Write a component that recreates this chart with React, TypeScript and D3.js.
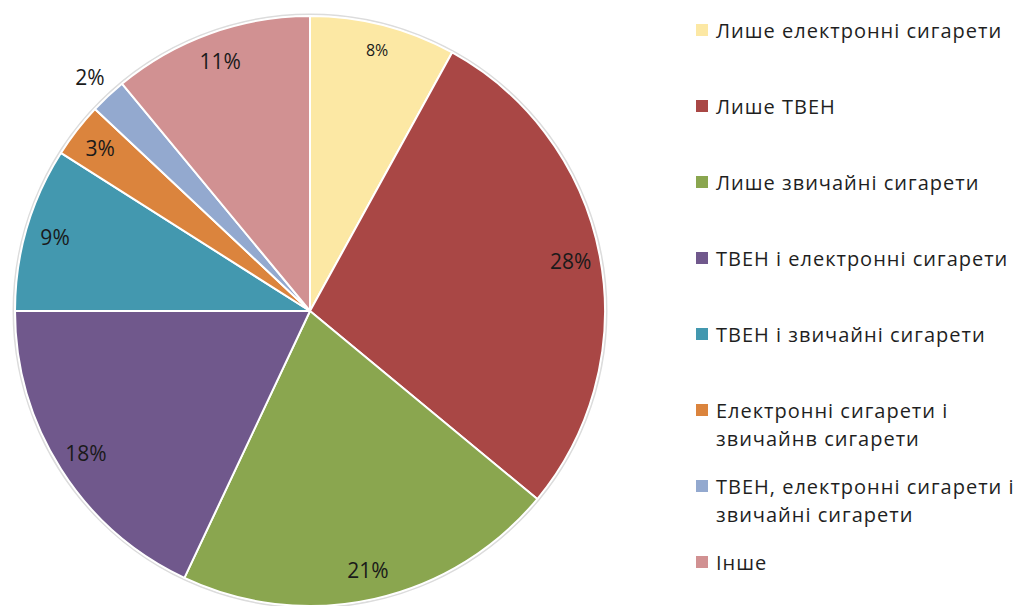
import React from "react";
import * as d3 from "d3";

const categories = [
  "Лише електронні сигарети",
  "Лише ТВЕН",
  "Лише звичайні сигарети",
  "ТВЕН і електронні сигарети",
  "ТВЕН і звичайні сигарети",
  "Електронні сигарети і звичайнв сигарети",
  "ТВЕН, електронні сигарети і звичайні сигарети",
  "Інше",
];
const legendLines = [
  ["Лише електронні сигарети"],
  ["Лише ТВЕН"],
  ["Лише звичайні сигарети"],
  ["ТВЕН і електронні сигарети"],
  ["ТВЕН і звичайні сигарети"],
  ["Електронні сигарети і", "звичайнв сигарети"],
  ["ТВЕН, електронні сигарети і", "звичайні сигарети"],
  ["Інше"],
];
const values = [8, 28, 21, 18, 9, 3, 2, 11];
const colors = ["#FCE8A4", "#A94745", "#8AA64F", "#70588C", "#4398AF", "#DB843D", "#93A9CF", "#D19192"];
const outsideLabels = [false, false, false, false, false, false, true, false];

const W = 1015;
const H = 606;
const cx = 310;
const cy = 311;
const R = 295;
const FONT = "'Open Sans', 'Noto Sans', sans-serif";

export default function App() {
  const pie = d3.pie<number>().sort(null).value((d) => d);
  const arcs = pie(values);
  const arc = d3.arc<d3.PieArcDatum<number>>().innerRadius(0).outerRadius(R);
  const labelArc = d3.arc<d3.PieArcDatum<number>>().innerRadius(R * 0.9).outerRadius(R * 0.9);
  const outerArc = d3.arc<d3.PieArcDatum<number>>().innerRadius(R * 1.09).outerRadius(R * 1.09);
  const topArc = d3.arc<d3.PieArcDatum<number>>().innerRadius(R * 0.915).outerRadius(R * 0.915);

  const legendY = d3.scalePoint<number>().domain(d3.range(categories.length)).range([30, 562]);
  const legendOffsets = [0, 0, 0, 0, 0, 14, 14, 0];

  return (
    <svg width={W} height={H} style={{ position: "absolute", left: 0, top: 0, background: "#fff" }}>
      <g transform={`translate(${cx},${cy})`}>
        <circle r={R + 1.5} fill="none" stroke="#dcdcdc" strokeWidth={2} />
        {arcs.map((a, i) => (
          <path key={i} d={arc(a) || ""} fill={colors[i]} stroke="#fff" strokeWidth={2} strokeLinejoin="round" />
        ))}
        {arcs.map((a, i) => {
          const small = i === 0;
          const [x, y] = outsideLabels[i]
            ? outerArc.centroid(a)
            : small
            ? topArc.centroid(a)
            : labelArc.centroid(a);
          return (
            <text
              key={i}
              x={x}
              y={y}
              textAnchor="middle"
              dominantBaseline="central"
              fontFamily={FONT}
              fontSize={small ? 16 : 21}
              fill="#1a1a1a"
            >
              {values[i]}%
            </text>
          );
        })}
      </g>
      <g>
        {categories.map((c, i) => {
          const y = (legendY(i) as number) + legendOffsets[i] - (legendLines[i].length > 1 ? 14 : 0);
          return (
            <g key={c}>
              <rect x={696} y={y - 6} width={12} height={12} fill={colors[i]} />
              {legendLines[i].map((line, j) => (
                <text
                  key={j}
                  x={716}
                  y={y + j * 28}
                  dominantBaseline="central"
                  fontFamily={FONT}
                  fontSize={20}
                  letterSpacing={1}
                  fill="#1f1f1f"
                >
                  {line}
                </text>
              ))}
            </g>
          );
        })}
      </g>
    </svg>
  );
}
